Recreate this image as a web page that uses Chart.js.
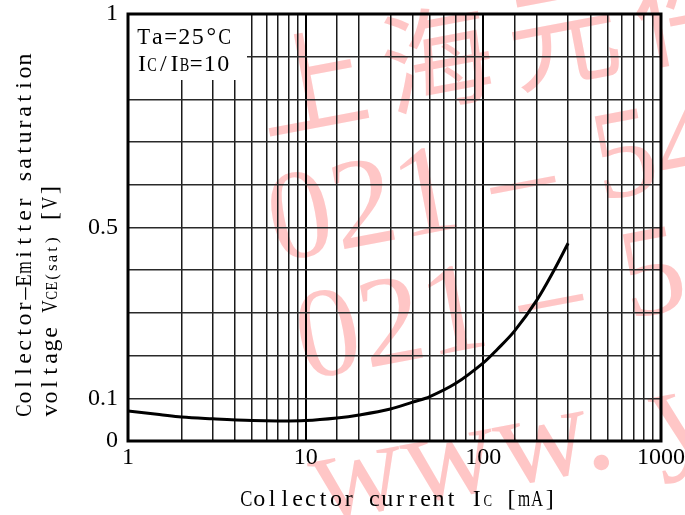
<!DOCTYPE html>
<html lang="en">
<head>
<meta charset="UTF-8">
<title>VCE(sat) - IC</title>
<script src="https://cdn.jsdelivr.net/npm/chart.js"></script>
<style>
  body { margin: 0; background: #fff; }
  #wrap { width: 685px; height: 515px; }
</style>
</head>
<body>
<div id="wrap"><canvas id="chart" width="685" height="515"></canvas></div>
<script>
// Collector current [mA] and the saturation voltage [V]
const currentMA = [1, 1.5, 2, 3, 5, 7, 10, 15, 20, 30, 40, 50, 70, 100, 120, 150, 200, 250, 300];
const vceSat = [0.070, 0.062, 0.056, 0.052, 0.048, 0.047, 0.048, 0.054, 0.061, 0.075, 0.091, 0.104, 0.135, 0.183, 0.215, 0.258, 0.330, 0.400, 0.463];
const xTickLabels = [1, 10, 100, 1000];
const yTickLabels = [0, 0.1, 0.5, 1];

const SERIF = '"Liberation Serif", "DejaVu Serif", serif';

// draws text as fixed-width cells, like the half-width Mincho in the datasheet
function drawRuns(ctx, runs, x, y) {
  ctx.textAlign = 'center';
  ctx.textBaseline = 'alphabetic';
  for (const [text, size, cell] of runs) {
    ctx.font = size + 'px ' + SERIF;
    for (const ch of text) {
      const w = ctx.measureText(ch).width;
      const k = Math.min(1, cell * 0.95 / Math.max(w, 0.01));
      ctx.save();
      ctx.translate(x + cell / 2, y);
      ctx.scale(k, 1);
      ctx.fillText(ch, 0, 0);
      ctx.restore();
      x += cell;
    }
  }
}

const watermark = {
  id: 'watermark',
  beforeDraw(chart) {
    const ctx = chart.ctx;
    const rot = -0.187;
    ctx.save();
    ctx.fillStyle = 'rgb(255,198,198)';
    ctx.textAlign = 'left';
    ctx.textBaseline = 'alphabetic';
    const put = (x, y, parts, font) => {
      ctx.save();
      ctx.translate(x, y);
      ctx.rotate(rot);
      ctx.font = font;
      for (const [t, u] of parts) ctx.fillText(t, u, 0);
      ctx.restore();
    };
    ctx.letterSpacing = '16px';
    put(264, 134, [['上海元件', 0]], '112px "Noto Sans CJK SC"');
    ctx.letterSpacing = '0px';
    const num = [['021', 0], ['–', 225], ['54', 330]];
    put(276, 262, num, '128px ' + SERIF);
    put(304, 380, num, '128px ' + SERIF);
    put(318, 522, [['www.', 0], ['y', 345]], '130px ' + SERIF);
    ctx.restore();
  }
};

const frame = {
  id: 'frame',
  afterDraw(chart) {
    const ctx = chart.ctx;
    const a = chart.chartArea;
    ctx.save();
    // condition box
    ctx.fillStyle = '#fff';
    ctx.fillRect(a.left + 1, a.top + 1, 118, 65);
    ctx.fillStyle = '#000';
    drawRuns(ctx, [['Ta=25°C', 24, 13.5]], 137, 44);
    drawRuns(ctx, [['I', 24, 10], ['C', 18, 10], ['/', 24, 12.5], ['I', 24, 10],
      ['B', 18, 10], ['=10', 24, 13.5]], 137, 71);

    // axis titles
    drawRuns(ctx, [['Collector current I', 24, 12.8], ['C', 17, 9], [' [mA]', 24, 12.8]], 240, 506);
    ctx.save();
    ctx.translate(31, 417);
    ctx.rotate(-Math.PI / 2);
    drawRuns(ctx, [['Collector–Emitter saturation', 24, 13]], 0, 0);
    ctx.restore();
    ctx.save();
    ctx.translate(57, 417);
    ctx.rotate(-Math.PI / 2);
    drawRuns(ctx, [['voltage V', 24, 13], ['CE(sat)', 17, 9.2], [' [V]', 24, 13]], 0, 0);
    ctx.restore();

    // plot frame
    ctx.strokeStyle = '#000';
    ctx.lineWidth = 3;
    ctx.strokeRect(a.left, a.top, a.right - a.left, a.bottom - a.top);
    ctx.restore();
  }
};

const isDecade = v => Math.abs(Math.log10(v) - Math.round(Math.log10(v))) < 1e-9;

new Chart(document.getElementById('chart'), {
  type: 'line',
  data: {
    datasets: [{
      data: currentMA.map((x, i) => ({ x: x, y: vceSat[i] })),
      borderColor: '#000',
      borderWidth: 3,
      pointRadius: 0,
      fill: false,
      tension: 0.35
    }]
  },
  options: {
    responsive: false,
    animation: false,
    layout: { padding: { left: 0, right: 24, top: 14, bottom: 0 } },
    plugins: { legend: { display: false }, tooltip: { enabled: false } },
    scales: {
      x: {
        type: 'logarithmic',
        min: 1,
        max: 1000,
        afterFit: s => { s.height = 74; s.paddingLeft = 0; s.paddingRight = 0; },
        border: { display: false },
        grid: {
          drawTicks: false,
          color: c => (c.tick && isDecade(c.tick.value)) ? '#000' : '#1a1a1a',
          lineWidth: c => (c.tick && isDecade(c.tick.value)) ? 2 : 1.5
        },
        ticks: {
          autoSkip: false,
          maxRotation: 0,
          padding: 2,
          color: '#000',
          font: { family: SERIF, size: 24 },
          callback: v => xTickLabels.includes(v) ? String(v) : ''
        }
      },
      y: {
        min: 0,
        max: 1,
        afterFit: s => { s.width = 128; s.paddingTop = 0; s.paddingBottom = 0; },
        border: { display: false },
        grid: { drawTicks: false, color: '#2a2a2a', lineWidth: 1.5 },
        ticks: {
          stepSize: 0.1,
          autoSkip: false,
          padding: 10,
          color: '#000',
          font: { family: SERIF, size: 24 },
          callback: v => {
            const r = Math.round(v * 10) / 10;
            return yTickLabels.includes(r) ? String(r) : '';
          }
        }
      }
    }
  },
  plugins: [watermark, frame]
});
</script>
</body>
</html>
